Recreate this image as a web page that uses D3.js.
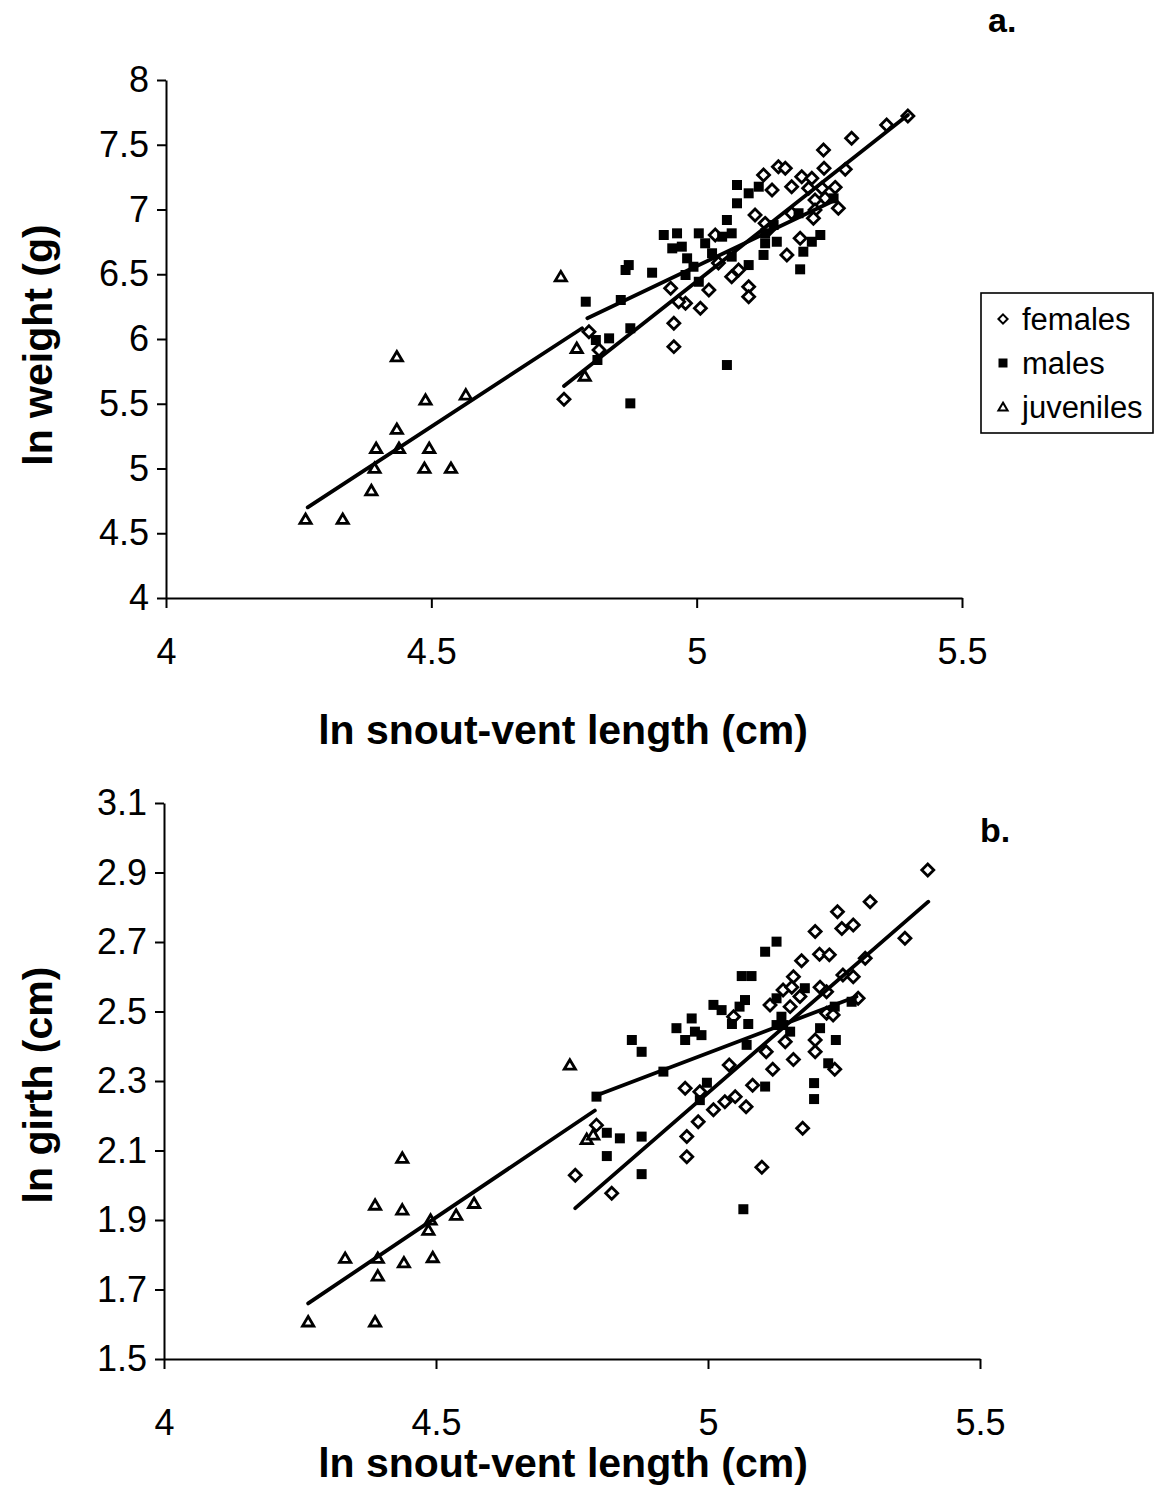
<!DOCTYPE html>
<html>
<head>
<meta charset="utf-8">
<script src="https://cdn.jsdelivr.net/npm/d3@7/dist/d3.min.js"></script>
<style>
  html, body { margin: 0; padding: 0; background: #fff; }
  svg { display: block; }
  text { font-family: "Liberation Sans", Arial, sans-serif; fill: #000; }
  .tick text { font-size: 36px; }
  .axis path, .axis line { stroke: #000; stroke-width: 2; }
  .axis-title { font-size: 41px; font-weight: bold; }
  .panel-tag { font-size: 34px; font-weight: bold; }
  .legend-text { font-size: 31px; }
</style>
</head>
<body>
<div id="chart"></div>
<script>
// ---------------------------------------
// Data (ln snout-vent length, ln weight / ln girth)
// ---------------------------------------
const xTicks = [4, 4.5, 5, 5.5];
const yTicksA = [4, 4.5, 5, 5.5, 6, 6.5, 7, 7.5, 8];
const yTicksB = [1.5, 1.7, 1.9, 2.1, 2.3, 2.5, 2.7, 2.9, 3.1];

const seriesNames = ["females", "males", "juveniles"];

// panel a: ln weight (g)
const femalesA = [
  [5.398,7.722],[5.358,7.653],[5.292,7.550],[5.239,7.459],[5.240,7.318],[5.280,7.310],
  [5.154,7.330],[5.167,7.318],[5.126,7.266],[5.142,7.151],[5.179,7.176],[5.198,7.253],
  [5.217,7.241],[5.211,7.164],[5.236,7.164],[5.261,7.171],[5.242,7.086],[5.223,7.073],
  [5.267,7.009],[5.223,6.996],[5.110,6.958],[5.129,6.893],[5.179,6.971],[5.220,6.932],
  [5.195,6.778],[5.170,6.649],[5.135,6.842],[5.035,6.803],[5.079,6.533],[5.066,6.481],
  [5.098,6.404],[5.098,6.327],[5.023,6.378],[5.007,6.237],[4.979,6.276],[4.966,6.288],
  [4.951,6.392],[4.957,6.121],[4.957,5.941],[4.797,6.056],[4.816,5.915],[4.750,5.534],
  [5.041,6.587]
];
const malesA = [
  [5.076,7.189],[5.098,7.125],[5.117,7.176],[5.076,7.048],[5.057,6.919],[5.066,6.816],
  [5.048,6.790],[5.004,6.816],[4.963,6.816],[4.938,6.803],[4.954,6.700],[4.972,6.713],
  [4.982,6.623],[4.994,6.558],[5.016,6.739],[5.029,6.662],[5.066,6.636],[5.098,6.571],
  [4.872,6.571],[4.866,6.533],[4.916,6.512],[4.979,6.494],[5.004,6.442],[4.857,6.301],
  [4.791,6.288],[4.875,6.083],[4.835,6.005],[4.810,5.992],[4.813,5.838],[5.057,5.799],
  [4.875,5.503],[5.129,6.816],[5.129,6.739],[5.151,6.751],[5.126,6.649],[5.192,6.971],
  [5.258,7.086],[5.233,6.803],[5.217,6.751],[5.201,6.674],[5.195,6.538],[5.145,6.880]
];
const juvenilesA = [
  [4.263,4.608],[4.333,4.608],[4.387,4.829],[4.393,5.002],[4.396,5.156],[4.435,5.303],
  [4.439,5.156],[4.435,5.863],[4.489,5.529],[4.487,5.002],[4.496,5.156],[4.537,5.002],
  [4.565,5.568],[4.744,6.481],[4.774,5.928],[4.789,5.714]
];
// trend lines: [x0, y0, x1, y1]
const fitA = {
  females:   [4.750, 5.637, 5.398, 7.730],
  males:     [4.794, 6.160, 5.261, 7.073],
  juveniles: [4.267, 4.700, 4.784, 6.083]
};

// panel b: ln girth (cm)
const femalesB = [
  [5.404,2.907],[5.298,2.816],[5.238,2.787],[5.246,2.739],[5.267,2.749],[5.197,2.730],
  [5.362,2.711],[5.172,2.646],[5.205,2.665],[5.223,2.663],[5.289,2.653],[5.157,2.600],
  [5.248,2.605],[5.267,2.600],[5.138,2.562],[5.154,2.570],[5.206,2.570],[5.218,2.557],
  [5.169,2.543],[5.114,2.519],[5.151,2.514],[5.276,2.538],[5.218,2.495],[5.230,2.490],
  [5.047,2.485],[5.142,2.413],[5.197,2.418],[5.197,2.384],[5.107,2.384],[5.157,2.362],
  [5.039,2.346],[5.119,2.334],[5.233,2.334],[5.082,2.288],[5.050,2.255],[5.031,2.240],
  [5.010,2.217],[5.070,2.226],[4.982,2.183],[4.958,2.279],[5.174,2.164],[4.961,2.140],
  [4.985,2.269],[4.961,2.082],[5.099,2.052],[4.756,2.029],[4.823,1.977],[4.795,2.173]
];
const malesB = [
  [5.126,2.701],[5.105,2.672],[5.062,2.602],[5.080,2.602],[5.010,2.519],[5.025,2.504],
  [5.068,2.533],[5.058,2.514],[5.044,2.464],[5.074,2.464],[4.970,2.480],[4.958,2.418],
  [4.976,2.442],[4.988,2.432],[5.178,2.567],[5.135,2.485],[5.138,2.461],[5.071,2.404],
  [5.206,2.452],[5.235,2.418],[5.233,2.514],[5.264,2.528],[5.221,2.351],[5.105,2.284],
  [5.195,2.294],[5.195,2.248],[4.998,2.295],[4.985,2.245],[4.795,2.255],[4.918,2.327],
  [4.814,2.151],[4.838,2.135],[4.878,2.140],[4.814,2.084],[4.878,2.032],[5.065,1.931],
  [4.860,2.418],[4.878,2.384],[4.942,2.452],[5.126,2.538],[5.126,2.461],[5.151,2.442]
];
const juvenilesB = [
  [4.746,2.346],[4.438,2.078],[4.388,1.943],[4.438,1.929],[4.570,1.948],[4.537,1.914],
  [4.490,1.900],[4.486,1.871],[4.333,1.790],[4.393,1.790],[4.441,1.777],[4.494,1.792],
  [4.393,1.739],[4.265,1.607],[4.388,1.607],[4.777,2.132],[4.789,2.145]
];
const fitB = {
  females:   [4.756, 1.934, 5.405, 2.816],
  males:     [4.792, 2.257, 5.273, 2.543],
  juveniles: [4.265, 1.660, 4.792, 2.215]
};

// ---------------------------------------
// Marker shapes
// ---------------------------------------
function markerPath(kind, r) {
  if (kind === "females") {
    return `M0,${-r}L${r},0L0,${r}L${-r},0Z`;
  }
  if (kind === "males") {
    return `M${-r},${-r}H${r}V${r}H${-r}Z`;
  }
  // juveniles: triangle
  return `M0,${-r * 0.95}L${r},${r * 0.75}L${-r},${r * 0.75}Z`;
}

function styleMarker(sel, kind) {
  if (kind === "males") {
    sel.attr("fill", "#000").attr("stroke", "none");
  } else {
    sel.attr("fill", "#fff").attr("stroke", "#000").attr("stroke-width", 2.8);
  }
}

const markerSize = { females: 6, males: 5, juveniles: 5.6 };

const svg = d3.select("#chart").append("svg")
  .attr("width", 1159)
  .attr("height", 1506);

// ---------------------------------------
// One panel
// ---------------------------------------
function drawPanel(p) {
  const x = d3.scaleLinear().domain([4, 5.5]).range([p.left, p.right]);
  const y = d3.scaleLinear().domain(p.yDomain).range([p.bottom, p.top]);

  const g = svg.append("g");

  g.append("g")
    .attr("class", "axis")
    .attr("transform", `translate(0,${p.bottom})`)
    .call(d3.axisBottom(x).tickValues(xTicks).tickSize(10).tickSizeOuter(0)
      .tickPadding(p.xPad).tickFormat(d => String(d)));

  g.append("g")
    .attr("class", "axis")
    .attr("transform", `translate(${p.left},0)`)
    .call(d3.axisLeft(y).tickValues(p.yTicks).tickSize(9).tickSizeOuter(0)
      .tickPadding(8).tickFormat(d => String(d)));

  const sets = { females: p.females, males: p.males, juveniles: p.juveniles };

  seriesNames.forEach(kind => {
    g.append("g").selectAll("path")
      .data(sets[kind])
      .join("path")
      .attr("d", markerPath(kind, markerSize[kind]))
      .attr("transform", d => `translate(${x(d[0])},${y(d[1])})`)
      .call(styleMarker, kind);
  });

  // trend lines on top
  seriesNames.forEach(kind => {
    const f = p.fits[kind];
    g.append("line")
      .attr("x1", x(f[0])).attr("y1", y(f[1]))
      .attr("x2", x(f[2])).attr("y2", y(f[3]))
      .attr("stroke", "#000")
      .attr("stroke-width", 3.8)
      .attr("stroke-linecap", "round");
  });

  g.append("text")
    .attr("class", "axis-title")
    .attr("x", p.xTitle[0]).attr("y", p.xTitle[1])
    .attr("text-anchor", "middle")
    .text("ln snout-vent length (cm)");

  g.append("text")
    .attr("class", "axis-title")
    .attr("transform", `translate(${p.yTitle[0]},${p.yTitle[1]}) rotate(-90)`)
    .attr("text-anchor", "middle")
    .text(p.yLabel);

  g.append("text")
    .attr("class", "panel-tag")
    .attr("x", p.tag[0]).attr("y", p.tag[1])
    .text(p.tagText);
}

drawPanel({
  left: 166, right: 962, top: 80, bottom: 598,
  yDomain: [4, 8], yTicks: yTicksA, xPad: 30,
  females: femalesA, males: malesA, juveniles: juvenilesA, fits: fitA,
  xTitle: [563, 744], yTitle: [52, 345], yLabel: "ln weight (g)",
  tag: [988, 32], tagText: "a."
});

drawPanel({
  left: 164, right: 980, top: 803, bottom: 1359,
  yDomain: [1.5, 3.1], yTicks: yTicksB, xPad: 40,
  females: femalesB, males: malesB, juveniles: juvenilesB, fits: fitB,
  xTitle: [563, 1477], yTitle: [52, 1085], yLabel: "ln girth (cm)",
  tag: [980, 842], tagText: "b."
});

// ---------------------------------------
// Legend
// ---------------------------------------
const legend = svg.append("g").attr("transform", "translate(981,293)");
legend.append("rect")
  .attr("width", 172).attr("height", 140)
  .attr("fill", "#fff").attr("stroke", "#000").attr("stroke-width", 1.6);

const legendItems = legend.selectAll("g.item")
  .data(seriesNames)
  .join("g")
  .attr("class", "item")
  .attr("transform", (d, i) => `translate(22,${26 + i * 44})`);

legendItems.append("path")
  .attr("d", d => markerPath(d, d === "males" ? 4.5 : 4.6))
  .each(function(d) { d3.select(this).call(styleMarker, d); })
  .attr("stroke-width", d => d === "males" ? null : 2);

legendItems.append("text")
  .attr("class", "legend-text")
  .attr("x", 19).attr("y", 11)
  .text(d => d);
</script>
</body>
</html>
